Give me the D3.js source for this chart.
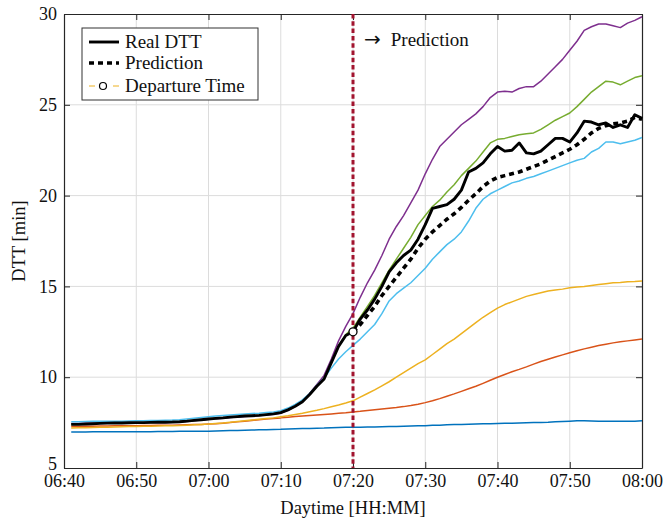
<!DOCTYPE html>
<html>
<head>
<meta charset="utf-8">
<script src="https://cdn.jsdelivr.net/npm/d3@7"></script>
<style>
 body { margin: 0; background: #fff; }
 text { font-family: "Liberation Serif", "Times New Roman", serif; }
</style>
</head>
<body>
<div id="chart"></div>
<script>
// sample times: one per minute, 06:41 .. 08:00
const firstSample = "06:41";
const xTickLabels = ["06:40", "06:50", "07:00", "07:10", "07:20", "07:30", "07:40", "07:50", "08:00"];
const yTickValues = [5, 10, 15, 20, 25, 30];
const departure = "07:20";

const realDTT = [
 7.40, 7.40, 7.42, 7.44, 7.46, 7.47, 7.48, 7.48, 7.49, 7.50,
 7.50, 7.51, 7.52, 7.52, 7.53, 7.55, 7.58, 7.62, 7.66, 7.70,
 7.73, 7.76, 7.80, 7.83, 7.86, 7.88, 7.90, 7.94, 7.98, 8.05,
 8.20, 8.40, 8.65, 9.05, 9.50, 9.90, 10.80, 11.70, 12.30, 12.50,
 13.20, 13.70, 14.30, 15.00, 15.80, 16.30, 16.70, 17.00, 17.60, 18.40,
 19.30, 19.40, 19.50, 19.80, 20.30, 21.30, 21.50, 21.80, 22.30, 22.70,
 22.45, 22.50, 22.90, 22.35, 22.30, 22.45, 22.80, 23.15, 23.15, 22.95,
 23.45, 24.10, 24.05, 23.90, 24.00, 23.75, 23.90, 23.75, 24.45, 24.25
];

// prediction starts at departure time (07:20 .. 08:00)
const prediction = [
 12.50, 12.90, 13.40, 13.90, 14.50, 15.00, 15.50, 16.00, 16.50, 17.10, 17.60,
 18.00, 18.35, 18.70, 19.00, 19.35, 19.75, 20.10, 20.50, 20.80, 21.00,
 21.10, 21.20, 21.30, 21.45, 21.60, 21.75, 21.95, 22.15, 22.35, 22.55,
 22.80, 23.10, 23.45, 23.70, 23.85, 23.95, 24.00, 24.10, 24.30, 24.20
];

const seriesBlue = [
 6.98, 6.98, 6.98, 6.99, 6.99, 6.99, 6.99, 7.00, 7.00, 7.00,
 7.00, 7.00, 7.01, 7.01, 7.01, 7.02, 7.02, 7.02, 7.03, 7.03,
 7.04, 7.05, 7.06, 7.07, 7.08, 7.09, 7.10, 7.11, 7.12, 7.13,
 7.15, 7.16, 7.17, 7.18, 7.19, 7.20, 7.22, 7.23, 7.24, 7.25,
 7.25, 7.26, 7.26, 7.27, 7.28, 7.29, 7.30, 7.31, 7.32, 7.33,
 7.35, 7.36, 7.38, 7.39, 7.40, 7.41, 7.42, 7.43, 7.44, 7.45,
 7.46, 7.47, 7.48, 7.49, 7.50, 7.51, 7.52, 7.54, 7.56, 7.58,
 7.60, 7.60, 7.59, 7.58, 7.58, 7.57, 7.57, 7.57, 7.58, 7.60
];

const seriesOrange = [
 7.28, 7.29, 7.30, 7.30, 7.31, 7.31, 7.32, 7.32, 7.33, 7.33,
 7.34, 7.34, 7.35, 7.36, 7.36, 7.37, 7.38, 7.39, 7.40, 7.42,
 7.44, 7.47, 7.50, 7.54, 7.58, 7.62, 7.66, 7.70, 7.73, 7.76,
 7.80, 7.83, 7.86, 7.89, 7.92, 7.95, 7.98, 8.01, 8.04, 8.08,
 8.12, 8.17, 8.21, 8.25, 8.29, 8.33, 8.38, 8.44, 8.51, 8.60,
 8.70, 8.82, 8.95, 9.08, 9.22, 9.36, 9.50, 9.66, 9.83, 10.00,
 10.15, 10.30, 10.43, 10.57, 10.72, 10.86, 10.99, 11.11, 11.23, 11.35,
 11.46, 11.56, 11.65, 11.74, 11.82, 11.89, 11.95, 12.00, 12.05, 12.10
];

const seriesYellow = [
 7.20, 7.21, 7.22, 7.23, 7.24, 7.25, 7.26, 7.27, 7.28, 7.29,
 7.30, 7.30, 7.31, 7.32, 7.33, 7.34, 7.36, 7.38, 7.40, 7.42,
 7.45, 7.48, 7.52, 7.56, 7.60, 7.64, 7.68, 7.72, 7.76, 7.82,
 7.88, 7.95, 8.02, 8.10, 8.18, 8.27, 8.37, 8.47, 8.58, 8.70,
 8.90, 9.10, 9.30, 9.52, 9.75, 10.00, 10.25, 10.50, 10.75, 10.95,
 11.25, 11.55, 11.85, 12.10, 12.40, 12.70, 13.00, 13.30, 13.55, 13.80,
 14.00, 14.15, 14.30, 14.45, 14.55, 14.65, 14.75, 14.80, 14.85, 14.93,
 14.97, 15.00, 15.05, 15.10, 15.15, 15.20, 15.22, 15.25, 15.27, 15.30
];

const seriesPurple = [
 7.45, 7.45, 7.46, 7.47, 7.47, 7.48, 7.48, 7.48, 7.49, 7.49,
 7.49, 7.50, 7.50, 7.51, 7.52, 7.53, 7.56, 7.60, 7.64, 7.68,
 7.71, 7.74, 7.78, 7.81, 7.84, 7.87, 7.89, 7.92, 7.96, 8.02,
 8.18, 8.40, 8.65, 9.10, 9.60, 10.10, 11.00, 12.00, 12.80, 13.50,
 14.40, 15.20, 15.90, 16.70, 17.60, 18.30, 18.90, 19.60, 20.30, 21.20,
 22.00, 22.70, 23.10, 23.50, 23.90, 24.20, 24.50, 24.90, 25.40, 25.70,
 25.75, 25.70, 25.90, 26.00, 26.00, 26.30, 26.70, 27.10, 27.50, 28.00,
 28.50, 29.10, 29.30, 29.45, 29.45, 29.35, 29.25, 29.50, 29.65, 29.85
];

const seriesGreen = [
 7.40, 7.40, 7.42, 7.44, 7.46, 7.47, 7.48, 7.48, 7.49, 7.50,
 7.50, 7.51, 7.52, 7.52, 7.53, 7.55, 7.58, 7.62, 7.66, 7.70,
 7.73, 7.76, 7.80, 7.83, 7.86, 7.88, 7.90, 7.94, 7.98, 8.05,
 8.20, 8.40, 8.65, 9.05, 9.50, 9.90, 10.80, 11.70, 12.35, 12.70,
 13.30, 13.90, 14.50, 15.20, 15.90, 16.50, 17.10, 17.70, 18.40, 18.90,
 19.40, 19.75, 20.20, 20.60, 21.10, 21.50, 21.90, 22.40, 22.90, 23.10,
 23.15, 23.25, 23.35, 23.40, 23.45, 23.65, 23.90, 24.15, 24.35, 24.55,
 24.90, 25.30, 25.70, 26.00, 26.30, 26.25, 26.10, 26.30, 26.50, 26.60
];

const seriesCyan = [
 7.55, 7.55, 7.56, 7.57, 7.57, 7.58, 7.58, 7.58, 7.59, 7.60,
 7.60, 7.61, 7.62, 7.63, 7.64, 7.66, 7.70, 7.74, 7.78, 7.82,
 7.86, 7.89, 7.92, 7.95, 7.98, 8.00, 8.02, 8.05, 8.08, 8.15,
 8.30, 8.50, 8.75, 9.10, 9.55, 9.95, 10.50, 11.00, 11.40, 11.75,
 12.10, 12.50, 12.90, 13.50, 14.20, 14.60, 14.90, 15.20, 15.60, 16.00,
 16.50, 16.90, 17.30, 17.60, 18.00, 18.60, 19.30, 19.80, 20.10, 20.30,
 20.50, 20.70, 20.80, 20.95, 21.05, 21.20, 21.35, 21.50, 21.65, 21.80,
 21.95, 22.05, 22.40, 22.60, 22.95, 22.95, 22.85, 22.95, 23.05, 23.20
];

const toMin = (s) => +s.slice(0, 2) * 60 + +s.slice(3);

const W = 664, H = 520;
const margin = { top: 14, right: 22, bottom: 52, left: 64 };
const width = W - margin.left - margin.right;
const height = H - margin.top - margin.bottom;

const x = d3.scaleLinear()
 .domain([toMin(xTickLabels[0]), toMin(xTickLabels[xTickLabels.length - 1])])
 .range([0, width]);
const y = d3.scaleLinear().domain([5, 30]).range([height, 0]);

const svg = d3.select("#chart").append("svg")
 .attr("width", W).attr("height", H);
const g = svg.append("g").attr("transform", `translate(${margin.left},${margin.top})`);

// grid
g.append("g").selectAll("line").data(xTickLabels.slice(1, -1)).enter().append("line")
 .attr("x1", (d) => x(toMin(d))).attr("x2", (d) => x(toMin(d)))
 .attr("y1", 0).attr("y2", height)
 .attr("stroke", "#dcdcdc").attr("stroke-width", 1);
g.append("g").selectAll("line").data(yTickValues.slice(1, -1)).enter().append("line")
 .attr("y1", (d) => y(d)).attr("y2", (d) => y(d))
 .attr("x1", 0).attr("x2", width)
 .attr("stroke", "#dcdcdc").attr("stroke-width", 1);

// axes (MATLAB-like box, inward ticks)
const xAxis = g.append("g").attr("transform", `translate(0,${height})`)
 .call(d3.axisBottom(x).tickValues(xTickLabels.map(toMin))
  .tickFormat((d, i) => xTickLabels[i]).tickSizeInner(-6).tickSizeOuter(0).tickPadding(6));
const xAxisTop = g.append("g")
 .call(d3.axisTop(x).tickValues(xTickLabels.map(toMin))
  .tickFormat("").tickSizeInner(-6).tickSizeOuter(0));
const yAxis = g.append("g")
 .call(d3.axisLeft(y).tickValues(yTickValues).tickSizeInner(-6).tickSizeOuter(0).tickPadding(7));
const yAxisRight = g.append("g").attr("transform", `translate(${width},0)`)
 .call(d3.axisRight(y).tickValues(yTickValues).tickFormat("").tickSizeInner(-6).tickSizeOuter(0));

[xAxis, xAxisTop, yAxis, yAxisRight].forEach((a) => {
 a.select(".domain").attr("stroke", "#262626").attr("stroke-width", 1.2);
 a.selectAll(".tick line").attr("stroke", "#262626");
 a.selectAll("text").attr("font-family", "Liberation Serif").attr("font-size", 18).attr("fill", "#111");
});
// the "5" label sits a little above its tick, as in the original
yAxis.selectAll(".tick text").filter((d) => d === 5).attr("dy", "0.1em");

// series
const t0 = toMin(firstSample);
const line = d3.line().x((d, i) => x(t0 + i)).y((d) => y(d));
const colored = [
 { v: seriesBlue, c: "#0072BD" },
 { v: seriesOrange, c: "#D95319" },
 { v: seriesYellow, c: "#EDB120" },
 { v: seriesPurple, c: "#7E2F8E" },
 { v: seriesGreen, c: "#77AC30" },
 { v: seriesCyan, c: "#4DBEEE" },
];
const marks = g.append("g");
colored.forEach((s) => {
 marks.append("path").datum(s.v).attr("d", line)
  .attr("fill", "none").attr("stroke", s.c).attr("stroke-width", 1.5)
  .attr("stroke-linejoin", "round");
});

marks.append("path").datum(realDTT).attr("d", line)
 .attr("fill", "none").attr("stroke", "#000").attr("stroke-width", 2.9)
 .attr("stroke-linejoin", "round");

const tDep = toMin(departure);
const predLine = d3.line().x((d, i) => x(tDep + i)).y((d) => y(d));
marks.append("path").datum(prediction).attr("d", predLine)
 .attr("fill", "none").attr("stroke", "#000").attr("stroke-width", 3.6)
 .attr("stroke-dasharray", "5,4");

// departure marker line
g.append("line")
 .attr("x1", x(tDep)).attr("x2", x(tDep)).attr("y1", 0).attr("y2", height)
 .attr("stroke", "#A2142F").attr("stroke-width", 3).attr("stroke-dasharray", "4.5,2.8");

g.append("circle")
 .attr("cx", x(tDep)).attr("cy", y(realDTT[tDep - t0]))
 .attr("r", 4).attr("fill", "#fff").attr("stroke", "#000").attr("stroke-width", 1.3);

const note = g.append("text")
 .attr("x", x(tDep) + 11).attr("y", 32)
 .attr("font-size", 19).attr("fill", "#111");
note.append("tspan").attr("font-family", "DejaVu Sans").attr("font-size", 20).text("\u2192");
note.append("tspan").attr("dx", 10).text("Prediction");

// axis labels
svg.append("text")
 .attr("x", margin.left + width / 2).attr("y", 514)
 .attr("text-anchor", "middle").attr("font-size", 18.5).attr("fill", "#111")
 .text("Daytime [HH:MM]");
svg.append("text")
 .attr("transform", `translate(25,${margin.top + height / 2}) rotate(-90)`)
 .attr("text-anchor", "middle").attr("font-size", 18.5).attr("fill", "#111")
 .text("DTT [min]");

// legend
const legend = svg.append("g").attr("transform", "translate(82,28)");
legend.append("rect").attr("width", 176).attr("height", 72)
 .attr("fill", "#fff").attr("stroke", "#333").attr("stroke-width", 1);
const rows = [
 { label: "Real DTT", yy: 14 },
 { label: "Prediction", yy: 35 },
 { label: "Departure Time", yy: 58 },
];
legend.append("line").attr("x1", 7).attr("x2", 37).attr("y1", rows[0].yy).attr("y2", rows[0].yy)
 .attr("stroke", "#000").attr("stroke-width", 2.9);
legend.append("line").attr("x1", 7).attr("x2", 37).attr("y1", rows[1].yy).attr("y2", rows[1].yy)
 .attr("stroke", "#000").attr("stroke-width", 3.6).attr("stroke-dasharray", "5,4");
legend.append("line").attr("x1", 7).attr("x2", 37).attr("y1", rows[2].yy).attr("y2", rows[2].yy)
 .attr("stroke", "#EDB120").attr("stroke-width", 1).attr("stroke-dasharray", "6,18");
legend.append("circle").attr("cx", 21).attr("cy", rows[2].yy).attr("r", 3.5)
 .attr("fill", "#fff").attr("stroke", "#000").attr("stroke-width", 1.2);
legend.selectAll("text.lab").data(rows).enter().append("text")
 .attr("class", "lab")
 .attr("x", 43).attr("y", (d) => d.yy + 6)
 .attr("font-size", 19).attr("fill", "#111")
 .text((d) => d.label);
</script>
</body>
</html>
